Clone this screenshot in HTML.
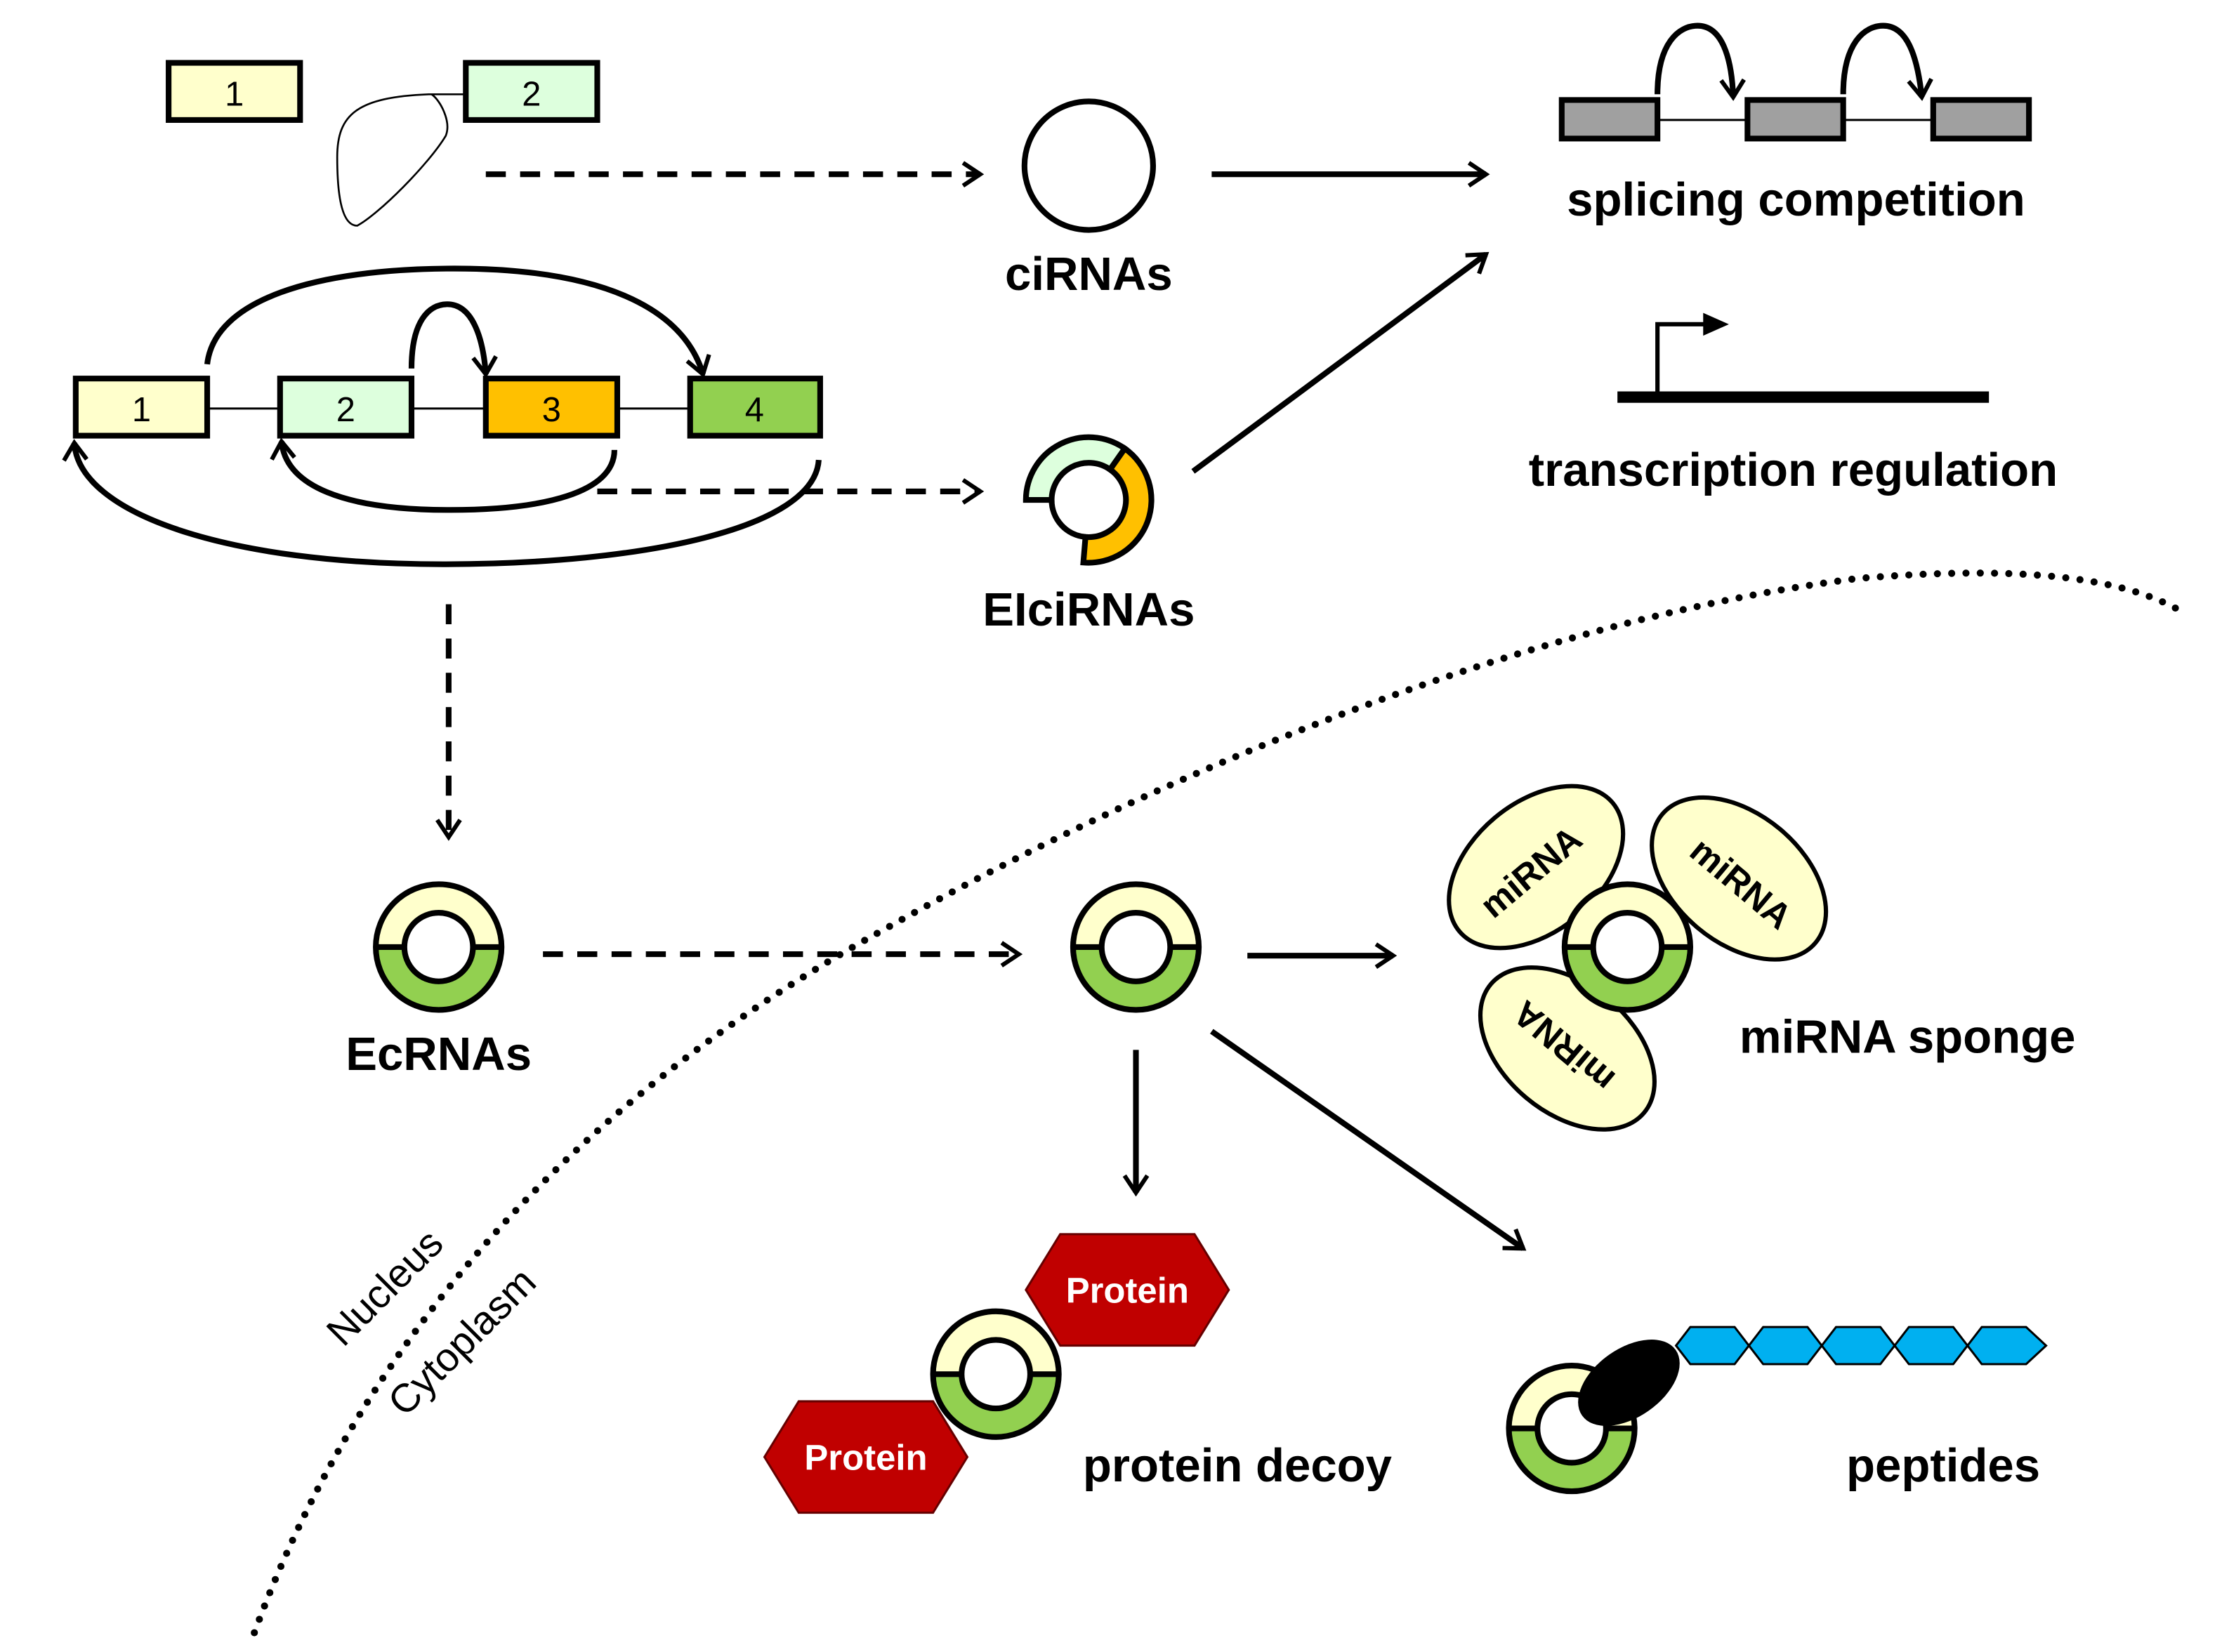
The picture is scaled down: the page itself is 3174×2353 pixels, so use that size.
<!DOCTYPE html>
<html><head><meta charset="utf-8"><style>
html,body{margin:0;padding:0;background:#fff}
svg{display:block}
text{font-family:"Liberation Sans",Arial,sans-serif}
</style></head><body>
<svg width="3174" height="2353" viewBox="0 0 1560 1156.5" xmlns="http://www.w3.org/2000/svg">
<defs>
<marker id="oa" viewBox="0 0 20 20" refX="16" refY="10" markerWidth="20" markerHeight="20" markerUnits="userSpaceOnUse" orient="auto">
<path d="M4,2 L16,10 L4,18" fill="none" stroke="#000" stroke-width="3"/>
</marker>
<g id="ring">
<circle r="44" fill="#ffffcc"/>
<path d="M-44,0 A44,44 0 0 0 44,0 Z" fill="#92d050"/>
<circle r="24" fill="#fff" stroke="#000" stroke-width="4"/>
<circle r="44" fill="none" stroke="#000" stroke-width="4"/>
<path d="M-44,0 H-24 M24,0 H44" stroke="#000" stroke-width="4"/>
</g>
</defs>

<rect x="118" y="44" width="92" height="40" fill="#ffffcc" stroke="#000" stroke-width="4"/>
<text x="164" y="74" font-size="24" text-anchor="middle">1</text>
<rect x="326" y="44" width="92" height="40" fill="#ddffdd" stroke="#000" stroke-width="4"/>
<text x="372" y="74" font-size="24" text-anchor="middle">2</text>
<path d="M326,66 L300,66 C250,68 236,80 236,110 C236,140 240,158 250,158 C265,150 300,115 312,95 C316,85 308,70 302,66" fill="none" stroke="#000" stroke-width="1.3"/>

<line x1="340" y1="122" x2="686" y2="122" stroke="#000" stroke-width="4" stroke-dasharray="14,10" marker-end="url(#oa)"/>
<circle cx="762" cy="116" r="45" fill="none" stroke="#000" stroke-width="4"/>
<text x="762" y="203" font-size="33" font-weight="bold" text-anchor="middle">ciRNAs</text>

<line x1="848" y1="122" x2="1040" y2="122" stroke="#000" stroke-width="4" marker-end="url(#oa)"/>
<line x1="835" y1="330" x2="1040" y2="178" stroke="#000" stroke-width="4" marker-end="url(#oa)"/>

<line x1="1160" y1="84" x2="1353" y2="84" stroke="#000" stroke-width="1.5"/>
<rect x="1093" y="70" width="67" height="27" fill="#a0a0a0" stroke="#000" stroke-width="4"/>
<rect x="1223" y="70" width="67" height="27" fill="#a0a0a0" stroke="#000" stroke-width="4"/>
<rect x="1353" y="70" width="67" height="27" fill="#a0a0a0" stroke="#000" stroke-width="4"/>
<path d="M1160,66 C1160,30 1175,18 1188,18 C1205,18 1212,40 1213,68" fill="none" stroke="#000" stroke-width="4" marker-end="url(#oa)"/>
<path d="M1290,66 C1290,30 1305,18 1318,18 C1335,18 1342,40 1345,68" fill="none" stroke="#000" stroke-width="4" marker-end="url(#oa)"/>
<text x="1257" y="151" font-size="33" font-weight="bold" text-anchor="middle">splicing competition</text>

<line x1="1132" y1="278" x2="1392" y2="278" stroke="#000" stroke-width="8"/>
<path d="M1160,276 V227 H1196" fill="none" stroke="#000" stroke-width="3"/>
<path d="M1192,219 L1210,227 L1192,235 Z" fill="#000"/>
<text x="1255" y="340" font-size="33" font-weight="bold" text-anchor="middle">transcription regulation</text>

<line x1="145" y1="286" x2="483" y2="286" stroke="#000" stroke-width="1.5"/>
<rect x="53" y="265" width="92" height="40" fill="#ffffcc" stroke="#000" stroke-width="4"/>
<text x="99" y="295" font-size="24" text-anchor="middle">1</text>
<rect x="196" y="265" width="92" height="40" fill="#ddffdd" stroke="#000" stroke-width="4"/>
<text x="242" y="295" font-size="24" text-anchor="middle">2</text>
<rect x="340" y="265" width="92" height="40" fill="#ffc000" stroke="#000" stroke-width="4"/>
<text x="386" y="295" font-size="24" text-anchor="middle">3</text>
<rect x="483" y="265" width="91" height="40" fill="#92d050" stroke="#000" stroke-width="4"/>
<text x="528" y="295" font-size="24" text-anchor="middle">4</text>

<path d="M145,255 C150,210 220,188 318,188 C420,188 478,215 492,262" fill="none" stroke="#000" stroke-width="4" marker-end="url(#oa)"/>
<path d="M288,258 C288,225 300,213 313,213 C330,213 338,235 340,262" fill="none" stroke="#000" stroke-width="4" marker-end="url(#oa)"/>
<path d="M430,315 C430,345 380,357 315,357 C240,357 200,340 197,309" fill="none" stroke="#000" stroke-width="4" marker-end="url(#oa)"/>
<path d="M573,322 C570,370 450,395 310,395 C160,395 55,360 52,310" fill="none" stroke="#000" stroke-width="4" marker-end="url(#oa)"/>

<line x1="418" y1="344" x2="686" y2="344" stroke="#000" stroke-width="4" stroke-dasharray="14,10" marker-end="url(#oa)"/>

<path d="M718,350 A44,44 0 0 1 787.2,314 L776.9,328.7 A26,26 0 0 0 736,350 Z" fill="#ddffdd" stroke="#000" stroke-width="4"/>
<path d="M787.2,314 A44,44 0 0 1 758.2,393.8 L759.7,375.9 A26,26 0 0 0 776.9,328.7 Z" fill="#ffc000" stroke="#000" stroke-width="4"/>
<path d="M759.7,375.9 A26,26 0 0 1 736,350" fill="none" stroke="#000" stroke-width="4"/>
<text x="762" y="438" font-size="33" font-weight="bold" text-anchor="middle">EIciRNAs</text>

<line x1="314" y1="423" x2="314" y2="586" stroke="#000" stroke-width="4" stroke-dasharray="14,10" marker-end="url(#oa)"/>

<path d="M178,1143 C260,920 420,760 620,650 C850,520 1100,430 1300,405 C1420,395 1490,405 1530,430" fill="none" stroke="#000" stroke-width="5" stroke-dasharray="0,10" stroke-linecap="round"/>
<text transform="translate(276,908) rotate(-45)" font-size="28" text-anchor="middle">Nucleus</text>
<text transform="translate(330,946) rotate(-45)" font-size="28" text-anchor="middle">Cytoplasm</text>

<use href="#ring" x="307" y="663"/>
<text x="307" y="749" font-size="33" font-weight="bold" text-anchor="middle">EcRNAs</text>
<line x1="380" y1="668" x2="713" y2="668" stroke="#000" stroke-width="4" stroke-dasharray="14,10" marker-end="url(#oa)"/>

<use href="#ring" x="795" y="663"/>
<line x1="873" y1="669" x2="975" y2="669" stroke="#000" stroke-width="4" marker-end="url(#oa)"/>
<line x1="795" y1="735" x2="795" y2="835" stroke="#000" stroke-width="4" marker-end="url(#oa)"/>
<line x1="848" y1="722" x2="1066" y2="874" stroke="#000" stroke-width="4" marker-end="url(#oa)"/>

<g stroke="#000" stroke-width="3" fill="#ffffcc">
<ellipse cx="1075" cy="607" rx="70" ry="45" transform="rotate(-40 1075 607)"/>
<ellipse cx="1217" cy="615" rx="70" ry="45" transform="rotate(40 1217 615)"/>
<ellipse cx="1097" cy="734" rx="70" ry="45" transform="rotate(40 1097 734)"/>
</g>
<text transform="translate(1077,617) rotate(-40)" font-size="25" font-weight="bold" text-anchor="middle">miRNA</text>
<text transform="translate(1213,625) rotate(40)" font-size="25" font-weight="bold" text-anchor="middle">miRNA</text>
<text transform="translate(1100,726) rotate(220)" font-size="25" font-weight="bold" text-anchor="middle">miRNA</text>
<use href="#ring" x="1139" y="663"/>
<text x="1335" y="737" font-size="33" font-weight="bold" text-anchor="middle">miRNA sponge</text>

<polygon points="718,903 742,864 836,864 860,903 836,942 742,942" fill="#c00000" stroke="#600" stroke-width="1.5"/>
<text x="789" y="912" font-size="25" font-weight="bold" fill="#fff" text-anchor="middle">Protein</text>
<polygon points="535,1020 559,981 653,981 677,1020 653,1059 559,1059" fill="#c00000" stroke="#600" stroke-width="1.5"/>
<text x="606" y="1029" font-size="25" font-weight="bold" fill="#fff" text-anchor="middle">Protein</text>
<use href="#ring" x="697" y="962"/>
<text x="866" y="1037" font-size="33" font-weight="bold" text-anchor="middle">protein decoy</text>

<use href="#ring" x="1100" y="1000"/>
<g fill="#00b0f0" stroke="#000" stroke-width="1.5">
<polygon points="1173,942 1183,929 1214,929 1224,942 1214,955 1183,955"/>
<polygon points="1224,942 1234,929 1265,929 1275,942 1265,955 1234,955"/>
<polygon points="1275,942 1285,929 1316,929 1326,942 1316,955 1285,955"/>
<polygon points="1326,942 1336,929 1367,929 1377,942 1367,955 1336,955"/>
<polygon points="1377,942 1387,929 1418,929 1432,942 1418,955 1387,955"/>
</g>
<ellipse cx="1140" cy="968" rx="40" ry="24" transform="rotate(-35 1140 968)" fill="#000"/>
<text x="1360" y="1037" font-size="33" font-weight="bold" text-anchor="middle">peptides</text>
</svg>
</body></html>
